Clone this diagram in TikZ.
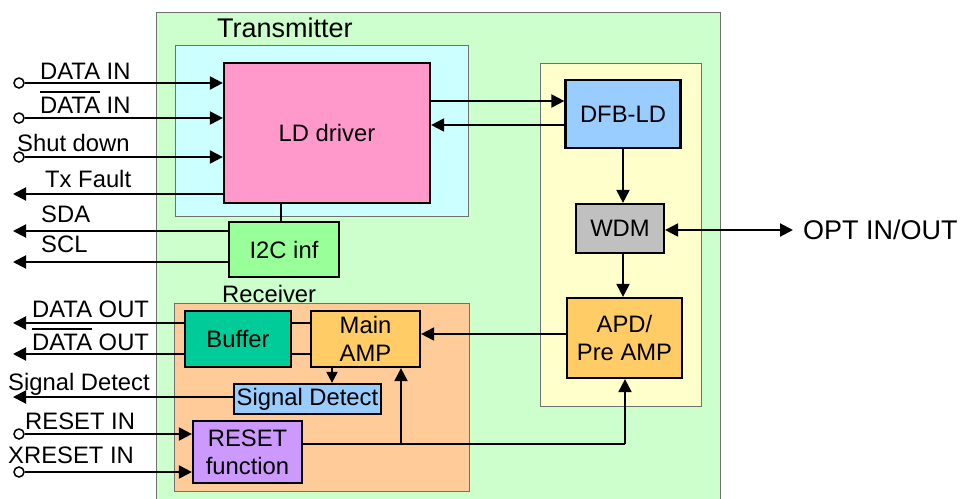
\documentclass[tikz,border=0pt]{standalone}
\usepackage{fontspec}
\setmainfont{Liberation Sans}
\usetikzlibrary{arrows.meta}
\definecolor{cgreen}{HTML}{CCFFCC}
\definecolor{ccyan}{HTML}{CCFFFF}
\definecolor{cpink}{HTML}{FF99CC}
\definecolor{cyellow}{HTML}{FFFFCC}
\definecolor{cblue}{HTML}{99CCFF}
\definecolor{cgray}{HTML}{C0C0C0}
\definecolor{camber}{HTML}{FFCC66}
\definecolor{clime}{HTML}{99FF99}
\definecolor{corange}{HTML}{FFCC99}
\definecolor{cteal}{HTML}{00CC99}
\definecolor{cviolet}{HTML}{CC99FF}
\definecolor{cframe}{HTML}{707070}
\newcommand\fsmain{\fontsize{23.8}{28}\selectfont}
\newcommand\fsbig{\fontsize{27}{31}\selectfont}
\newcommand\ovl[1]{\setbox0\hbox{#1}\rlap{\rule[\dimexpr\ht0+3.5pt\relax]{\wd0}{1.8pt}}\box0\relax}
\begin{document}
\begin{tikzpicture}[x=1pt,y=-1pt,
  blk/.style={draw=black, line width=2.2pt, inner sep=0pt, align=center, font=\fsmain},
  cont/.style={draw=cframe, line width=1pt},
  lbl/.style={inner sep=0pt, anchor=base west, font=\fsmain},
  arr/.style={line width=2pt, -{Triangle[length=13pt,width=13pt]}},
  sarr/.style={line width=2pt, -{Triangle[length=11pt,width=11pt]}},
  dblarr/.style={line width=2pt, {Triangle[length=13pt,width=13pt]}-{Triangle[length=13pt,width=13pt]}},
  wire/.style={line width=1.6pt},
  pincirc/.style={circle, draw=black, line width=1.5pt, fill=white, minimum size=10pt, inner sep=0pt}]
\useasboundingbox (0,0) rectangle (960,498);
% containers
\filldraw[cont, fill=cgreen] (156,12) rectangle (720,505);
\filldraw[cont, fill=ccyan] (175,45) rectangle (468,216);
\filldraw[cont, fill=cyellow] (540,63) rectangle (701,406);
\filldraw[cont, fill=corange] (174,303) rectangle (469,491);
\node[lbl, font=\fsbig] (ttx) at (217,37) {Transmitter};
\node[lbl] (trx) at (222,302) {Receiver};
% blocks
\node[blk, fill=cpink, minimum width=206pt, minimum height=140pt] (ld) at (327,133) {LD driver};
\node[blk, fill=cblue, minimum width=115pt, minimum height=68pt] (dfb) at (623,114) {DFB-LD};
\node[blk, fill=cgray, minimum width=88pt, minimum height=49pt] (wdm) at (620,228.5) {WDM};
\node[blk, fill=camber, minimum width=115pt, minimum height=80pt] (apd) at (624.5,338) {APD/\\Pre AMP};
\node[blk, fill=clime, minimum width=110pt, minimum height=55pt] (i2c) at (284,249.5) {I2C inf};
\node[blk, fill=cteal, minimum width=106pt, minimum height=56pt] (buf) at (238,339) {Buffer};
\node[blk, fill=camber, minimum width=109pt, minimum height=56pt] (amp) at (365.5,339) {Main\\AMP};
\node[blk, fill=cblue, minimum width=147pt, minimum height=30pt] (sd) at (307.5,399) {Signal Detect};
\node[blk, fill=cviolet, minimum width=109pt, minimum height=62pt] (rst) at (247.5,452) {RESET\\function};
% pins
\node[pincirc] (p1) at (19,83) {};
\node[pincirc] (p2) at (19,118) {};
\node[pincirc] (p3) at (19,157) {};
\node[pincirc] (p4) at (19,434) {};
\node[pincirc] (p5) at (19,472) {};
\coordinate (otx) at (13,194);
\coordinate (osda) at (13,231);
\coordinate (oscl) at (13,262);
\coordinate (od1) at (13,323);
\coordinate (od2) at (13,354);
\coordinate (osd) at (13,397);
\coordinate (opt) at (793,230);
% labels
\node[lbl] (l1) at (40,79) {DATA IN};
\node[lbl] (l2) at (40,113) {\ovl{DATA} IN};
\node[lbl] (l3) at (17,151) {Shut down};
\node[lbl] (l4) at (45,187) {Tx Fault};
\node[lbl] (l5) at (41,222) {SDA};
\node[lbl] (l6) at (41,252) {SCL};
\node[lbl] (l7) at (32,317) {DATA OUT};
\node[lbl] (l8) at (32,350) {\ovl{DATA} OUT};
\node[lbl] (l9) at (8,390) {Signal Detect};
\node[lbl] (l10) at (25,429) {RESET IN};
\node[lbl] (l11) at (8,463) {XRESET IN};
\node[lbl, font=\fsbig] (lopt) at (803,239) {OPT IN/OUT};
% inputs
\draw[arr] (p1.east) -- (p1 -| ld.west);
\draw[arr] (p2.east) -- (p2 -| ld.west);
\draw[arr] (p3.east) -- (p3 -| ld.west);
\draw[arr] (ld.west |- otx) -- (otx);
\draw[arr] (i2c.west |- osda) -- (osda);
\draw[arr] (i2c.west |- oscl) -- (oscl);
\draw[wire] (ld.south -| 281,0) -- (i2c.north -| 281,0);
% transmitter optics
\coordinate (yf) at (0,101);
\coordinate (yb) at (0,125);
\draw[arr] (ld.east |- yf) -- (dfb.west |- yf);
\draw[arr] (dfb.west |- yb) -- (ld.east |- yb);
\draw[arr] (dfb.south) -- (dfb.south |- wdm.north);
\draw[arr] (wdm.south -| 623,0) -- (apd.north -| 623,0);
\draw[dblarr] (wdm.east |- opt) -- (opt);
% receiver
\coordinate (ya) at (0,334);
\draw[arr] (apd.west |- ya) -- (amp.east |- ya);
\draw[wire] (buf.east |- od1) -- (amp.west |- od1);
\draw[wire] (buf.east |- od2) -- (amp.west |- od2);
\draw[arr] (buf.west |- od1) -- (od1);
\draw[arr] (buf.west |- od2) -- (od2);
\draw[sarr] (amp.south -| 332,0) -- (sd.north -| 332,0);
\draw[arr] (sd.west |- osd) -- (osd);
\draw[arr] (p4.east) -- (p4 -| rst.west);
\draw[arr] (p5.east) -- (p5 -| rst.west);
\coordinate (j1) at (401,444);
\coordinate (j2) at (625,444);
\draw[line width=2pt] (rst.east |- j1) -- (j2);
\draw[arr] (j1) -- (j1 |- amp.south);
\draw[arr] (j2) -- (j2 |- apd.south);
\end{tikzpicture}
\end{document}
